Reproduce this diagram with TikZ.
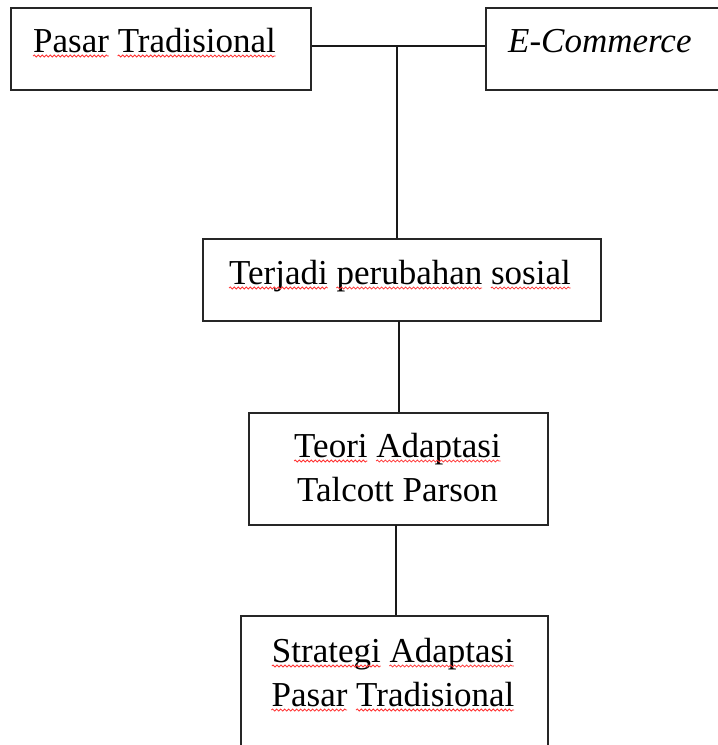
\documentclass[tikz,border=0pt]{standalone}
\usepackage{fontspec}
\setmainfont{Liberation Serif}
\usetikzlibrary{decorations.pathmorphing}
\newlength\wavea
\newlength\waveb
\newcommand\bigfont{\fontsize{35}{44}\selectfont}
% id, text before the word, the word : stores start and end offsets
\newcommand\defwave[3]{%
  \settowidth\wavea{\bigfont #2}%
  \settowidth\waveb{\bigfont #2#3}%
  \expandafter\xdef\csname wvs#1\endcsname{\the\wavea}%
  \expandafter\xdef\csname wve#1\endcsname{\the\waveb}}
% node name, id
\newcommand\wv[2]{%
  \draw[wave] ([xshift=\csname wvs#2\endcsname,yshift=-4pt]#1.base west)
    -- ([xshift=\csname wve#2\endcsname,yshift=-4pt]#1.base west);}
\begin{document}
\defwave{a}{}{Pasar}
\defwave{b}{Pasar }{Tradisional}
\defwave{c}{}{Terjadi}
\defwave{d}{Terjadi }{perubahan}
\defwave{e}{Terjadi perubahan }{sosial}
\defwave{f}{}{Teori}
\defwave{g}{Teori }{Adaptasi}
\defwave{h}{}{Strategi}
\defwave{i}{Strategi }{Adaptasi}
\begin{tikzpicture}[x=1pt,y=1pt,
  box/.style={draw=black!85, line width=1.7pt, inner sep=0pt},
  conn/.style={draw=black!90, line width=1.5pt},
  txt/.style={inner sep=0pt, font=\bigfont},
  wave/.style={draw=red!80, line width=0.8pt, decorate,
    decoration={snake, amplitude=1pt, segment length=4pt}}]
\useasboundingbox (0,0) rectangle (718,-745);
\clip (0,0) rectangle (718,-745);
\fill[white] (0,0) rectangle (718,-745);
% boxes
\node[box, minimum width=300pt, minimum height=82pt] (b1) at (161,-49) {};
\node[box, minimum width=280pt, minimum height=82pt] (b2) at (626,-49) {};
\node[box, minimum width=398pt, minimum height=82pt] (b3) at (402,-280) {};
\node[box, minimum width=299pt, minimum height=112pt] (b4) at (398.5,-469) {};
\node[box, minimum width=307pt, minimum height=160pt] (b5) at (394.5,-696) {};
% texts
\node[txt, anchor=base west] (t1) at (33,-52) {Pasar Tradisional};
\node[txt, anchor=base west] (t2) at (508,-52) {\textit{E-Commerce}};
\node[txt, anchor=base] (t3) at (400,-284) {Terjadi perubahan sosial};
\node[txt, anchor=base] (t4a) at (397.5,-457) {Teori Adaptasi};
\node[txt, anchor=base] (t4b) at (397.5,-501) {Talcott Parson};
\node[txt, anchor=base] (t5a) at (393,-662) {Strategi Adaptasi};
\node[txt, anchor=base] (t5b) at (393,-706) {Pasar Tradisional};
% spell-check squiggles
\wv{t1}{a}
\wv{t1}{b}
\wv{t3}{c}
\wv{t3}{d}
\wv{t3}{e}
\wv{t4a}{f}
\wv{t4a}{g}
\wv{t5a}{h}
\wv{t5a}{i}
\wv{t5b}{a}
\wv{t5b}{b}
% connectors
\coordinate (j) at (397,-46);
\draw[conn] (b1.east |- j) -- (b2.west |- j);
\draw[conn] (j) -- (j |- b3.north);
\coordinate (k) at (399,-321);
\draw[conn] (k) -- (k |- b4.north);
\coordinate (m) at (396,-525);
\draw[conn] (m) -- (m |- b5.north);
\end{tikzpicture}
\end{document}
